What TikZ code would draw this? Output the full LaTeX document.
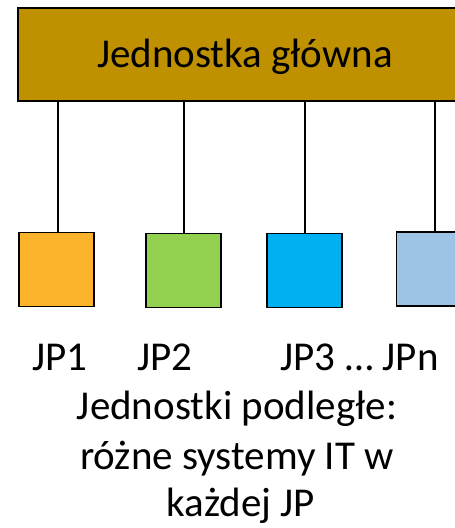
\documentclass[tikz,border=0pt]{standalone}
\usepackage{fontspec}
\setmainfont{Carlito}
\definecolor{mainfill}{HTML}{BF9000}
\definecolor{jpone}{HTML}{FCB32C}
\definecolor{jptwo}{HTML}{92D050}
\definecolor{jpthree}{HTML}{00B0F0}
\definecolor{jpn}{HTML}{9DC3E6}
\tikzset{
  mainbox/.style={draw=black, line width=1.5pt, fill=mainfill, minimum width=454pt, minimum height=93pt, inner sep=0pt, font=\fontsize{41}{50}\selectfont},
  unitbox/.style={draw=black, line width=1.6pt, minimum width=75pt, minimum height=74pt, inner sep=0pt},
  link/.style={draw=black, line width=1.8pt},
  lbl/.style={inner sep=0pt, anchor=base west, font=\fontsize{41}{50}\selectfont},
  caption/.style={inner sep=0pt, anchor=base, font=\fontsize{41}{50}\selectfont}
}
\begin{document}
\begin{tikzpicture}[x=1pt, y=-1pt]
\useasboundingbox (0,0) rectangle (455,528);
\clip (0,0) rectangle (455,528);
\node[mainbox] (main) at (245,54.5) {};
\node[inner sep=0pt, anchor=base, font=\fontsize{41}{50}\selectfont] (maintext) at (245,67) {Jednostka główna};
\node[unitbox, fill=jpone] (jp1) at (56.5,269.5) {};
\node[unitbox, fill=jptwo] (jp2) at (183.5,270.5) {};
\node[unitbox, fill=jpthree] (jp3) at (304.5,270.5) {};
\node[unitbox, fill=jpn] (jpn) at (434,269) {};
\coordinate (t1) at (58,101);
\coordinate (t2) at (184,101);
\coordinate (t3) at (305,101);
\coordinate (t4) at (435,101);
\draw[link] (t1) -- (t1 |- jp1.north);
\draw[link] (t2) -- (t2 |- jp2.north);
\draw[link, line width=1.3pt] (t3) -- (t3 |- jp3.north);
\draw[link] (t4) -- (t4 |- jpn.north);
\node[lbl] (l1) at (32,370) {JP1};
\node[lbl] (l2) at (137,370) {JP2};
\node[lbl] (l3) at (280,370) {JP3};
\node[lbl] (l4) at (345,370) {… JPn};
\node[caption] (c1) at (237,419) {Jednostki podległe:};
\node[caption] (c2) at (237,469) {różne systemy IT w};
\node[caption] (c3) at (241,516) {każdej JP};
\end{tikzpicture}
\end{document}
